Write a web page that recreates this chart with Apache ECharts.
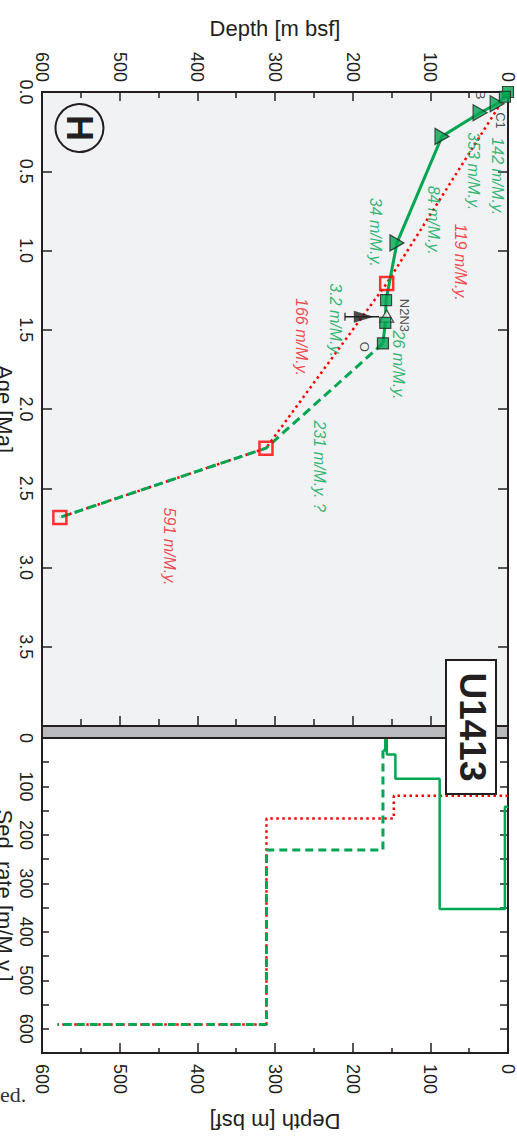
<!DOCTYPE html>
<html><head><meta charset="utf-8">
<script src="https://cdn.jsdelivr.net/npm/echarts@6/dist/echarts.min.js"></script>
<style>html,body{margin:0;padding:0;background:#fff;overflow:hidden}#c{width:517px;height:1136px}</style>
</head><body><div id="c"></div>
<script>
// ---- Age–depth model, Site U1413 (depth m bsf, age Ma) ----
const primaryDepth  = [0, 4, 14, 36, 85, 143, 157, 158, 161];
const primaryAge    = [0, 0.03, 0.074, 0.131, 0.28, 0.952, 1.313, 1.456, 1.586];
const primaryMarker = ['square','square','triangle','triangle','triangle','triangle','square','square','square'];
const altDepth = [161, 311.6, 577];
const altAge   = [1.586, 2.247, 2.684];
const redDepth = [0, 156.2, 311.6, 577];
const redAge   = [0, 1.208, 2.247, 2.684];
const openMarkDepth = [156.2];       // open marker under N3
const openMarkAge   = [1.414];
const arrowDepth = [209.9, 166];     // tail, tip
const arrowAge   = [1.418, 1.418];

// ---- Sedimentation-rate steps (top of interval depth, rate m/M.y.) ----
const greenSolidTop  = [0, 4, 88, 145, 156, 158];
const greenSolidRate = [142, 353, 84, 34, 3.2, 26];
const greenSolidBase = 161;
const greenDashTop   = [161, 161, 311];
const greenDashRate  = [26, 231, 591];
const greenDashBase  = 580;
const redStepTop  = [0, 147, 311];
const redStepRate = [119, 166, 591];
const redStepBase = 580;

// ---- Annotations ----
const greenNotes     = ['142 m/M.y.', '353 m/M.y.', '84 m/M.y.', '34 m/M.y.', '3.2 m/M.y.', '26 m/M.y.', '231 m/M.y. ?'];
const greenNoteDepth = [12.9, 45, 95.3, 170, 221.5, 141, 243];
const greenNoteAge   = [0.532, 0.50, 0.809, 0.885, 1.439, 1.722, 2.361];
const redNotes       = ['119 m/M.y.', '166 m/M.y.', '591 m/M.y.'];
const redNoteDepth   = [61.8, 266.5, 436];
const redNoteAge     = [1.074, 1.546, 2.868];
const pointNames     = ['B', 'C1', 'N2N3', 'O'];
const pointNameDepth = [34.8, 9.9, 133.5, 185];
const pointNameAge   = [0.019, 0.18, 1.41, 1.607];

const FONT = '"Liberation Sans", Arial, sans-serif';
const AX = '#231f20', GREEN = '#00a651', RED = '#ff0000', RED_TXT = '#ed1c24';

function zip(a, b) { return a.map((v, i) => [v, b[i]]); }
function steps(tops, rates, base) { const d = zip(tops, rates); d.push([base, rates[rates.length - 1]]); return d; }

const lblBase = { color: AX, fontFamily: FONT, fontSize: 18 };
function depthAxis(gridIndex, position, extra) {
  return Object.assign({
    type: 'value', gridIndex, position, min: 0, max: 600, interval: 100, inverse: true,
    axisLine: { show: true, onZero: false, lineStyle: { color: AX, width: 2 } },
    axisTick: { show: true, inside: true, length: 9, lineStyle: { color: AX, width: 1.5 } },
    minorTick: { show: true, splitNumber: 2, length: 6, lineStyle: { color: AX, width: 1.5 } },
    splitLine: { show: false }, minorSplitLine: { show: false },
    axisLabel: { show: false }
  }, extra);
}
function vAxis(gridIndex, position, min, max, interval, tickLen, extra) {
  return Object.assign({
    type: 'value', gridIndex, position, min, max, interval, inverse: true,
    axisLine: { show: true, onZero: false, lineStyle: { color: AX, width: 2 } },
    axisTick: { show: true, inside: true, length: tickLen, lineStyle: { color: AX, width: 1.5 } },
    splitLine: { show: false },
    axisLabel: { show: false }
  }, extra);
}
const nameStyle = { fontSize: 22, color: AX, fontFamily: FONT };

const noteItem = (t, d, a, color, size, italic) => ({
  value: [d, a],
  label: { show: true, formatter: t, color, fontSize: size, fontStyle: italic ? 'italic' : 'normal' }
});

const option = {
  animation: false,
  backgroundColor: '#fff',
  grid: [
    { left: 42, top: 92, width: 466, height: 634, show: true, backgroundColor: '#f1f2f4', borderColor: AX, borderWidth: 2, containLabel: false, outerBoundsMode: 'none' },
    { left: 42, top: 738, width: 466, height: 315, show: true, backgroundColor: '#ffffff', borderColor: AX, borderWidth: 2, containLabel: false, outerBoundsMode: 'none' }
  ],
  xAxis: [
    depthAxis(0, 'top', {
      axisLabel: Object.assign({ show: true, rotate: 90, margin: 10, showMinLabel: true, showMaxLabel: true }, lblBase),
      name: 'Depth [m bsf]', nameLocation: 'middle', nameGap: 53, nameTextStyle: nameStyle
    }),
    depthAxis(0, 'bottom', { axisTick: { show: true, inside: true, length: 10, lineStyle: { color: AX, width: 1.5 } },
      minorTick: { show: true, splitNumber: 2, length: 7, lineStyle: { color: AX, width: 1.5 } } }),
    depthAxis(1, 'bottom', {
      axisTick: { show: true, inside: true, length: 10, lineStyle: { color: AX, width: 1.5 } },
      minorTick: { show: true, splitNumber: 2, length: 5, lineStyle: { color: AX, width: 1.5 } },
      axisLabel: Object.assign({ show: true, rotate: -90, margin: 11, showMinLabel: true, showMaxLabel: true }, lblBase),
      name: 'Depth [m bsf]', nameLocation: 'middle', nameGap: 57, nameRotate: 180, nameTextStyle: nameStyle
    }),
    depthAxis(1, 'top', { axisTick: { show: false }, minorTick: { show: false } })
  ],
  yAxis: [
    vAxis(0, 'left', 0, 4, 0.5, 10, {
      axisLabel: Object.assign({ show: true, rotate: -90, margin: 7, formatter: v => v >= 4 ? '' : v.toFixed(1) }, lblBase),
      name: 'Age [Ma]', nameLocation: 'middle', nameGap: 27, nameRotate: -90, nameMoveOverlap: false, nameTextStyle: nameStyle
    }),
    vAxis(0, 'right', 0, 4, 0.5, 10, {}),
    vAxis(1, 'left', 0, 650, 50, 7, {
      axisLabel: Object.assign({ show: true, rotate: -90, margin: 7, formatter: v => (v % 100 === 0 && v <= 600) ? String(v) : '' }, lblBase),
      name: 'Sed. rate [m/M.y.]', nameLocation: 'middle', nameGap: 27, nameRotate: -90, nameMoveOverlap: false, nameTextStyle: nameStyle
    }),
    vAxis(1, 'right', 0, 650, 50, 8, {})
  ],
  series: [
    // ---- age-depth panel ----
    { type: 'line', xAxisIndex: 0, yAxisIndex: 0, data: zip(redDepth, redAge), symbol: 'none', z: 2,
      lineStyle: { color: RED, width: 2.5, type: [2.5, 3.5] } },
    { type: 'line', xAxisIndex: 0, yAxisIndex: 0, data: zip(altDepth, altAge), symbol: 'none', z: 3,
      lineStyle: { color: GREEN, width: 3, type: [9, 5] } },
    { type: 'line', xAxisIndex: 0, yAxisIndex: 0, data: zip(primaryDepth, primaryAge), symbol: 'none', z: 3,
      lineStyle: { color: GREEN, width: 3 } },
    { type: 'line', xAxisIndex: 0, yAxisIndex: 0, data: zip(arrowDepth, arrowAge), symbol: 'none', z: 4,
      lineStyle: { color: AX, width: 1.5 } },
    { type: 'scatter', xAxisIndex: 0, yAxisIndex: 0, data: [[arrowDepth[0], arrowAge[0]]], symbol: 'rect', symbolSize: [1.5, 8], z: 4,
      itemStyle: { color: AX } },
    { type: 'scatter', xAxisIndex: 0, yAxisIndex: 0, data: [[(arrowDepth[1] * 2 + arrowDepth[0]) / 3 + 5, arrowAge[1]]], symbol: 'triangle', symbolRotate: -90,
      symbolSize: [12, 20], z: 4, itemStyle: { color: AX } },
    { type: 'scatter', xAxisIndex: 0, yAxisIndex: 0, data: zip(openMarkDepth, openMarkAge), symbol: 'triangle', symbolSize: [14, 12], z: 5,
      itemStyle: { color: '#ffffff', borderColor: AX, borderWidth: 1.2 } },
    { type: 'scatter', xAxisIndex: 0, yAxisIndex: 0, z: 6,
      data: zip(primaryDepth, primaryAge).filter((p, i) => primaryMarker[i] === 'triangle'),
      symbol: 'triangle', symbolRotate: -90, symbolSize: [16, 14],
      itemStyle: { color: GREEN, borderColor: AX, borderWidth: 1.2 } },
    { type: 'scatter', xAxisIndex: 0, yAxisIndex: 0, z: 7,
      data: zip(primaryDepth, primaryAge).filter((p, i) => primaryMarker[i] === 'square'),
      symbol: 'rect', symbolSize: 11,
      itemStyle: { color: GREEN, borderColor: AX, borderWidth: 1.2 } },
    { type: 'scatter', xAxisIndex: 0, yAxisIndex: 0, z: 8,
      data: zip(redDepth, redAge).slice(1), symbol: 'rect', symbolSize: 13,
      itemStyle: { color: 'rgba(0,0,0,0)', borderColor: RED, borderWidth: 2.5 } },
    // annotations
    { type: 'scatter', xAxisIndex: 0, yAxisIndex: 0, symbolSize: 0, z: 9, silent: true,
      label: { show: true, position: 'inside', rotate: -90, fontFamily: FONT, align: 'center', verticalAlign: 'middle' },
      data: [].concat(
        greenNotes.map((t, i) => noteItem(t, greenNoteDepth[i], greenNoteAge[i], GREEN, 16, true)),
        redNotes.map((t, i) => noteItem(t, redNoteDepth[i], redNoteAge[i], RED_TXT, 16, true)),
        pointNames.map((t, i) => noteItem(t, pointNameDepth[i], pointNameAge[i], AX, 13, false))
      ) },
    // ---- sedimentation-rate panel ----
    { type: 'line', xAxisIndex: 2, yAxisIndex: 2, data: steps(redStepTop, redStepRate, redStepBase), step: 'end', symbol: 'none', z: 2,
      lineStyle: { color: RED, width: 2.5, type: [2.5, 3.5] } },
    { type: 'line', xAxisIndex: 2, yAxisIndex: 2, data: steps(greenDashTop, greenDashRate, greenDashBase), step: 'end', symbol: 'none', z: 3,
      lineStyle: { color: GREEN, width: 3, type: [8, 5] } },
    { type: 'line', xAxisIndex: 2, yAxisIndex: 2, data: steps(greenSolidTop, greenSolidRate, greenSolidBase), step: 'end', symbol: 'none', z: 3,
      lineStyle: { color: GREEN, width: 2.5 } }
  ],
  graphic: [
    { type: 'rect', z: 50, shape: { x: 42, y: 726, width: 466, height: 12 }, style: { fill: '#b9babd', stroke: AX, lineWidth: 2 } },
    { type: 'rect', z: 60, shape: { x: 446, y: 660, width: 50, height: 134 }, style: { fill: '#ffffff', stroke: AX, lineWidth: 2 } },
    { type: 'text', z: 61, x: 472, y: 727, rotation: -Math.PI / 2,
      style: { text: 'U1413', fill: AX, font: 'bold 37px ' + FONT, align: 'center', verticalAlign: 'middle' } },
    { type: 'circle', z: 60, shape: { cx: 79.5, cy: 128, r: 24 }, style: { fill: 'rgba(0,0,0,0)', stroke: AX, lineWidth: 2 } },
    { type: 'text', z: 61, x: 79.5, y: 128, rotation: -Math.PI / 2,
      style: { text: 'H', fill: AX, font: 'bold 36px ' + FONT, align: 'center', verticalAlign: 'middle' } },
    { type: 'text', z: 61, x: 0, y: 1094,
      style: { text: 'ed.', fill: '#333', font: '22px "Liberation Serif", "Times New Roman", serif', align: 'left', verticalAlign: 'middle' } }
  ]
};

const chart = echarts.init(document.getElementById('c'), null, { renderer: 'svg', width: 517, height: 1136 });
chart.setOption(option);
</script>
</body></html>
